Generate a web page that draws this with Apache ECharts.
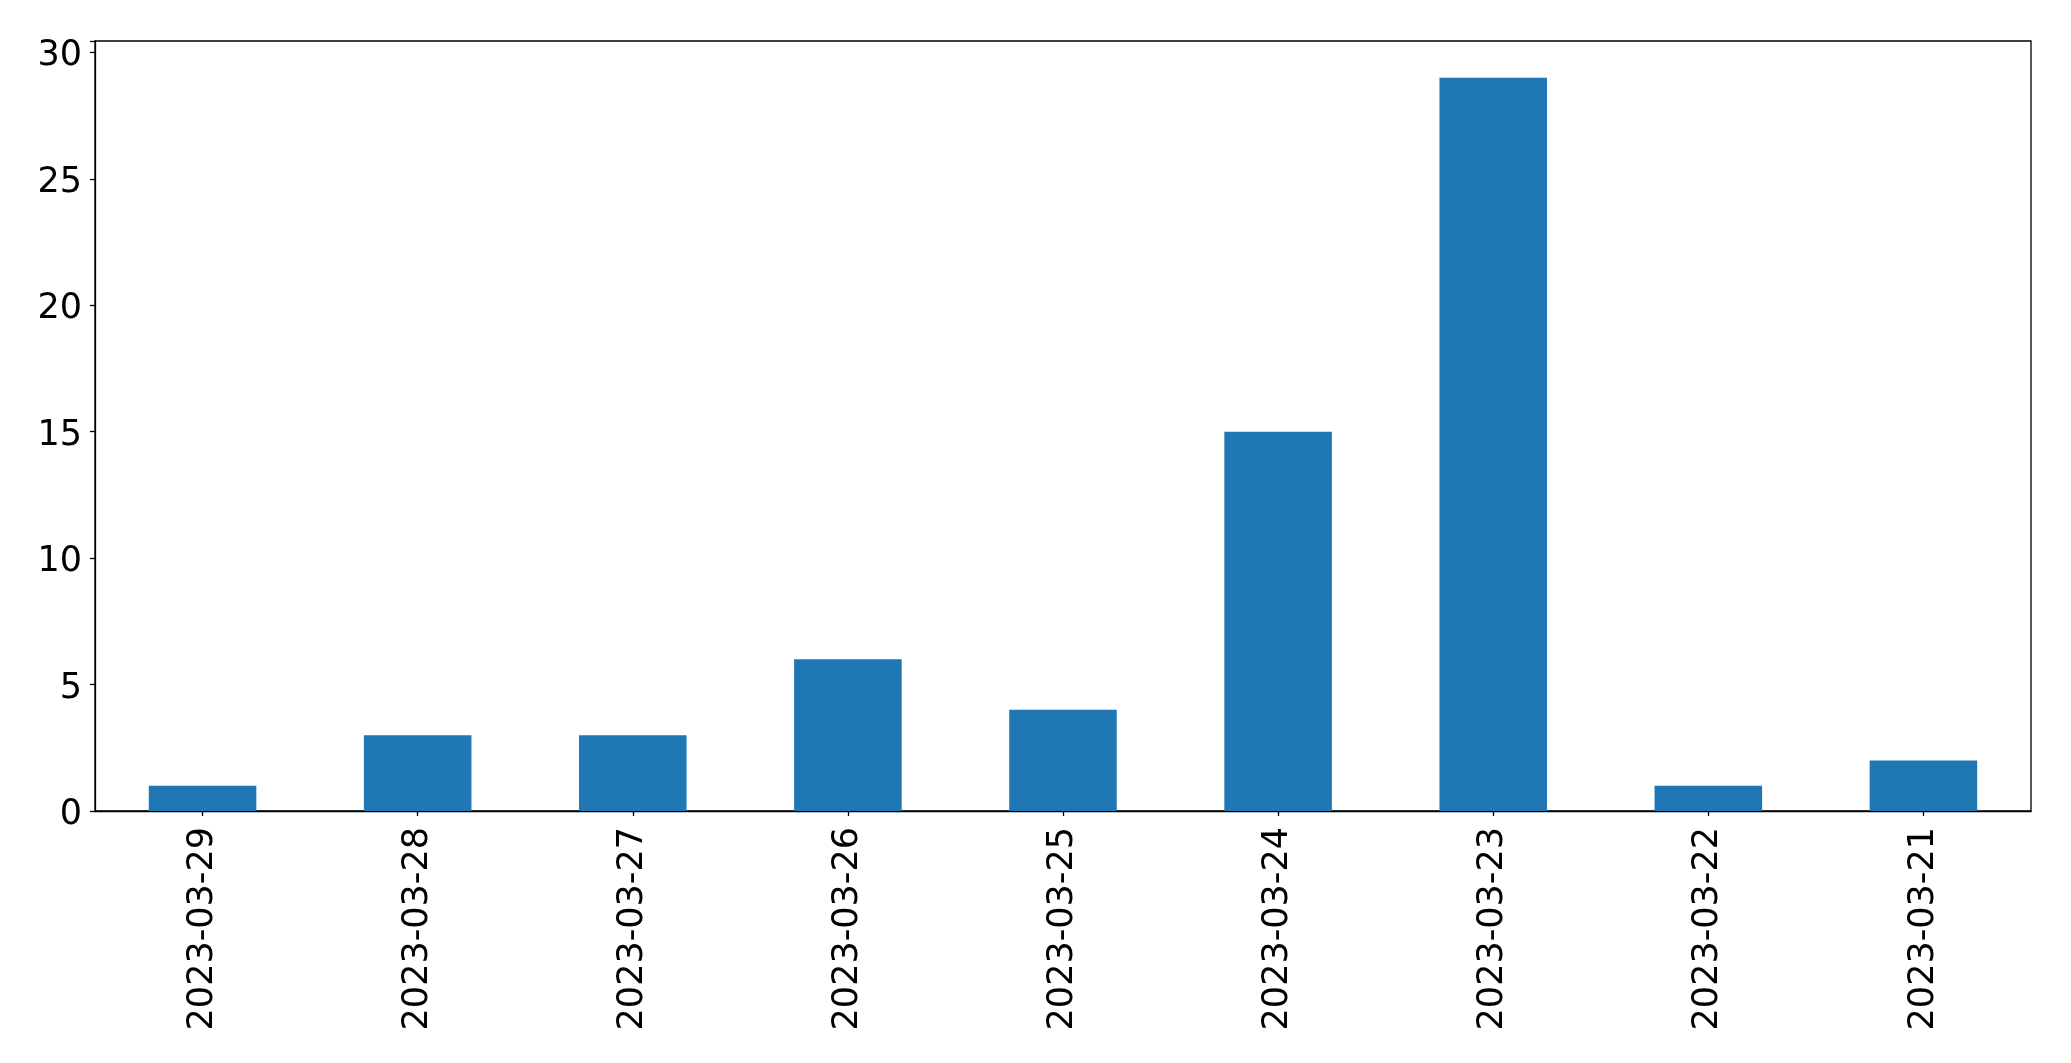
<!DOCTYPE html>
<html>
<head>
<meta charset="utf-8">
<script src="https://cdn.jsdelivr.net/npm/echarts@6/dist/echarts.min.js"></script>
<style>html,body{margin:0;padding:0;background:#fff;}#c{width:2071px;height:1063px;}</style>
</head>
<body>
<div id="c"></div>
<script>
const categories = ['2023-03-29','2023-03-28','2023-03-27','2023-03-26','2023-03-25','2023-03-24','2023-03-23','2023-03-22','2023-03-21'];
const values = [1, 3, 3, 6, 4, 15, 29, 1, 2];
const yTicks = [0, 5, 10, 15, 20, 25, 30];

const chart = echarts.init(document.getElementById('c'), null, {renderer: 'canvas'});
const font = 'DejaVu Sans';
chart.setOption({
  animation: false,
  backgroundColor: '#fff',
  grid: {left: 95, right: 40, top: 41, bottom: 252, show: true, borderColor: '#000', borderWidth: 1.3, backgroundColor: 'transparent'},
  xAxis: {
    type: 'category',
    data: categories,
    boundaryGap: true,
    axisLine: {show: true, lineStyle: {color: '#000', width: 1.3}},
    axisTick: {show: true, alignWithLabel: true, length: 5, lineStyle: {color: '#000', width: 1.3}},
    axisLabel: {rotate: 90, margin: 16, color: '#000', fontFamily: font, fontSize: 35},
    splitLine: {show: false}
  },
  yAxis: {
    type: 'value',
    min: 0,
    max: 30.45,
    interval: 5,
    axisLine: {show: true, lineStyle: {color: '#000', width: 1.3}},
    axisTick: {show: true, length: 5, lineStyle: {color: '#000', width: 1.3}},
    axisLabel: {margin: 13, color: '#000', fontFamily: font, fontSize: 35,
      formatter: v => (yTicks.indexOf(v) >= 0 ? '{a|' + v + '}' : ''),
      rich: {a: {fontFamily: font, fontSize: 35, color: '#000', padding: [8, 0, 0, 0]}}},
    splitLine: {show: false}
  },
  series: [{
    type: 'bar',
    data: values,
    barWidth: '50%',
    itemStyle: {color: '#1f77b4'}
  }]
});
</script>
</body>
</html>
